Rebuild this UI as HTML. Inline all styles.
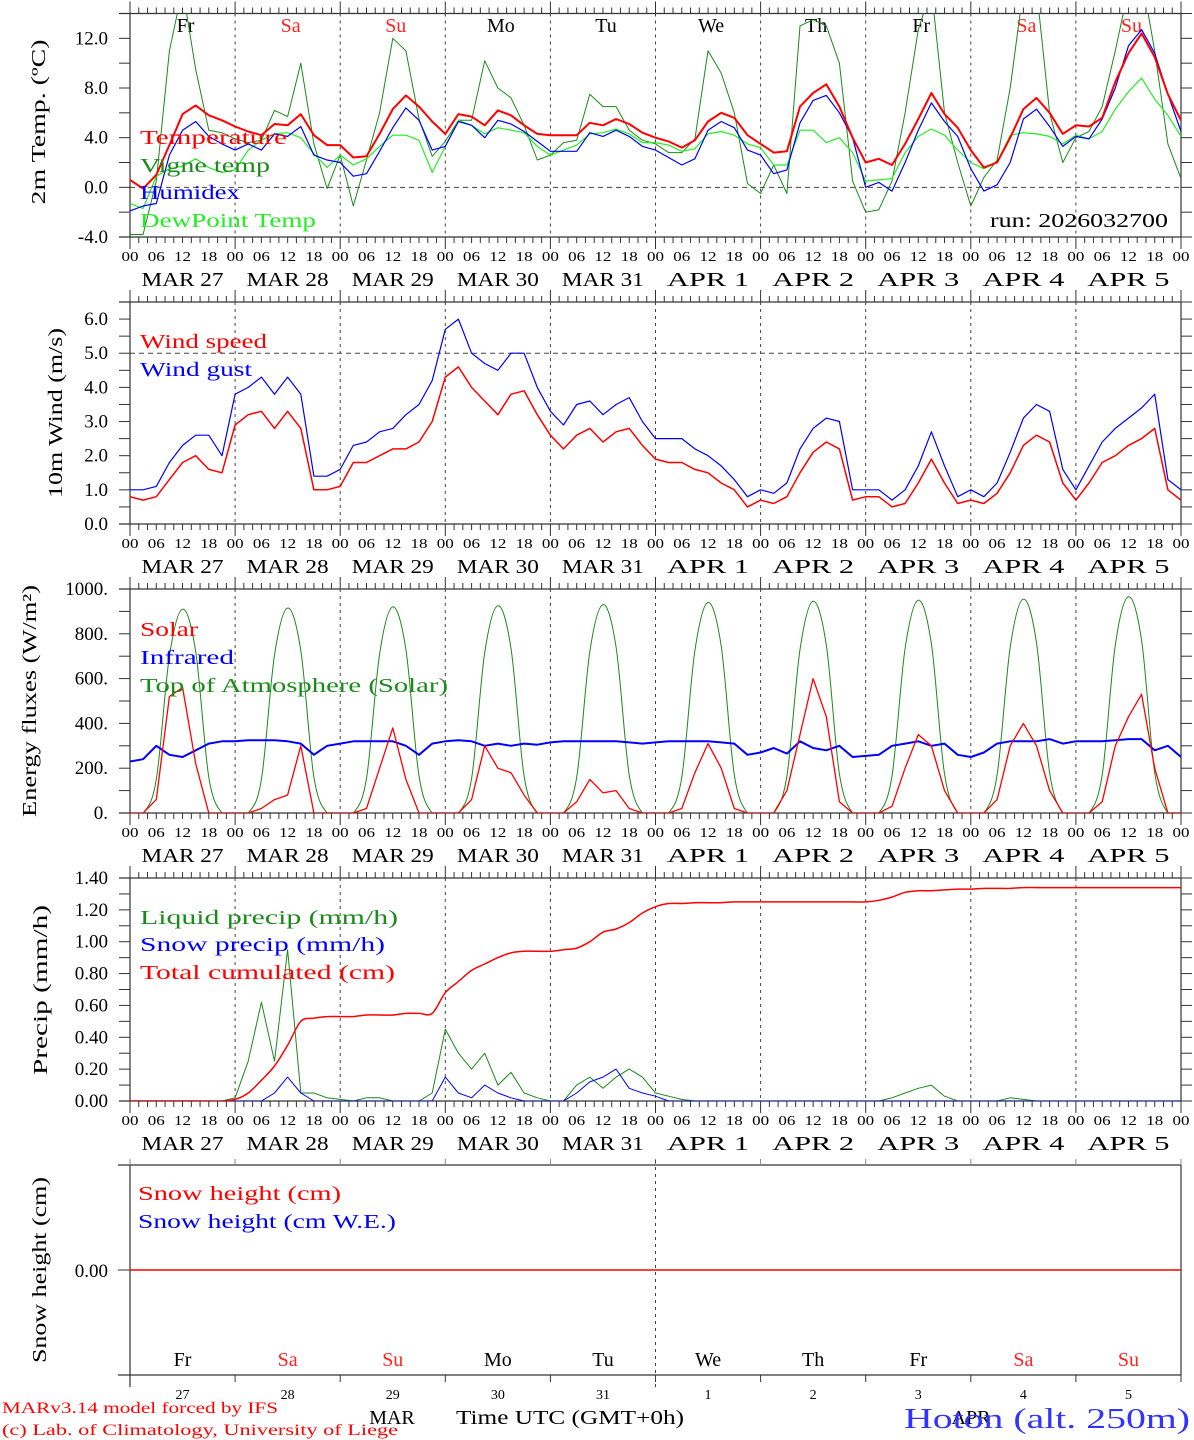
<!DOCTYPE html>
<html><head><meta charset="utf-8"><style>
html,body{margin:0;padding:0;background:#fff;}
svg{display:block;font-family:"Liberation Serif",serif;}
</style></head><body>
<svg id="chart" width="1194" height="1440" viewBox="0 0 1194 1440" xmlns="http://www.w3.org/2000/svg">
<defs>
<clipPath id="c0"><rect x="130" y="13.5" width="1051" height="223.5"/></clipPath>
<clipPath id="c1"><rect x="130" y="302" width="1051" height="222"/></clipPath>
<clipPath id="c2"><rect x="130" y="589" width="1051" height="224"/></clipPath>
<clipPath id="c3"><rect x="130" y="878" width="1051" height="223"/></clipPath>
</defs>
<g id="layer"></g>
</svg>
<script>
// ---- data (3-hourly, hours 0..240) ----
const hours = Array.from({length:81},(_, i)=>i*3);
const dayNames = ["Fr","Sa","Su","Mo","Tu","We","Th","Fr","Sa","Su"];
const dayDates = ["MAR  27","MAR  28","MAR  29","MAR  30","MAR  31","APR   1","APR   2","APR   3","APR   4","APR   5"];
const dayNums = ["27","28","29","30","31","1","2","3","4","5"];
const tempVals = [0.6,-0.1,1.0,3.4,5.9,6.6,5.8,5.4, 4.9,4.5,4.2,5.1,5.0,5.9,4.2,3.4, 3.4,2.4,2.5,4.3,6.3,7.4,6.5,5.3, 4.3,5.9,5.7,5.0,6.2,5.8,5.0,4.3, 4.2,4.2,4.2,5.2,5.0,5.5,5.1,4.4, 4.0,3.7,3.2,3.8,5.3,6.0,5.6,4.2, 3.5,2.8,2.9,6.5,7.6,8.3,6.5,4.0, 2.0,2.3,1.8,3.5,5.5,7.6,5.9,4.8, 3.0,1.6,2.0,4.0,6.3,7.2,6.0,4.3, 5.0,4.9,5.6,8.5,10.8,12.4,10.5,7.5, 5.4];
const vigneVals = [-3.8,-3.8,0.5,11,16,9.5,4.6,4.4, 3.9,3.6,3.8,6.2,5.7,10.0,3.5,-0.1, 2.6,-1.5,2.2,6.0,12.0,11.0,5.5,2.5, 3.7,5.4,5.4,10.2,8.0,7.2,5.0,2.2, 2.6,3.6,3.8,7.5,6.5,6.5,4.6,3.8, 3.5,2.8,2.8,3.9,11.0,9.2,6.0,0.3, -0.5,1.8,-0.5,13,13.5,13,10,0.5, -2.0,-1.8,0.5,6.0,12.7,16,6,2.0, -1.5,0.8,2.2,8,16,16,6,2.0, 4.0,4.5,6.5,11,16,17,11,3.5, 0.7];
const humidexVals = [-1.9,-1.5,-1.3,2.6,4.6,5.3,4.1,3.5, 3.0,3.5,3.0,4.3,4.1,4.9,2.6,2.2, 2.0,0.9,1.1,2.9,4.8,6.4,5.4,3.0, 3.3,5.3,5.0,4.0,5.4,5.1,4.5,3.7, 2.9,2.9,2.9,4.4,4.1,4.6,4.1,3.3, 3.0,2.4,1.8,2.3,4.6,5.3,4.8,3.0, 2.6,1.1,1.4,5.2,7.0,7.4,6.0,4.0, 0.0,0.4,-0.3,2.0,4.6,6.8,5.3,4.1, 1.5,-0.3,0.2,2.0,5.5,6.3,4.9,3.3, 4.1,3.9,5.5,8.0,11.4,12.7,10.8,7.5, 4.5];
const dewVals = [-1.3,-1.7,0.9,1.5,1.7,2.3,1.6,1.2, 1.4,3.0,3.8,4.3,4.4,4.0,2.7,1.6, 2.6,1.8,2.3,3.3,4.2,4.2,3.8,1.2, 3.3,5.4,5.0,4.3,4.8,4.6,4.4,3.3, 2.6,3.0,3.4,4.3,4.4,4.7,4.3,3.6, 3.6,3.4,2.9,3.1,4.3,4.5,4.2,3.5, 3.2,1.8,1.8,4.6,4.6,3.6,4.0,2.8, 0.5,0.6,0.7,2.8,4.1,4.7,4.2,3.0, 2.0,1.5,2.0,4.2,4.4,4.3,4.1,3.5, 4.2,3.9,4.5,6.3,7.7,8.8,7.1,5.8, 4.1];
const windVals = [0.8,0.7,0.8,1.3,1.8,2.0,1.6,1.5, 2.9,3.2,3.3,2.8,3.3,2.8,1.0,1.0, 1.1,1.8,1.8,2.0,2.2,2.2,2.4,3.0, 4.3,4.6,4.0,3.6,3.2,3.8,3.9,3.2, 2.6,2.2,2.6,2.8,2.4,2.7,2.8,2.3, 1.9,1.8,1.8,1.6,1.5,1.2,1.0,0.5, 0.7,0.6,0.8,1.5,2.1,2.4,2.2,0.7, 0.8,0.8,0.5,0.6,1.2,1.9,1.2,0.6, 0.7,0.6,0.9,1.5,2.3,2.6,2.4,1.2, 0.7,1.2,1.8,2.0,2.3,2.5,2.8,1.0, 0.7];
const gustVals = [1.0,1.0,1.1,1.8,2.3,2.6,2.6,2.0, 3.8,4.0,4.3,3.8,4.3,3.8,1.4,1.4, 1.6,2.3,2.4,2.7,2.8,3.2,3.5,4.2, 5.7,6.0,5.0,4.7,4.5,5.0,5.0,4.0, 3.3,2.9,3.5,3.6,3.2,3.5,3.7,3.0, 2.5,2.5,2.5,2.2,2.0,1.7,1.3,0.8, 1.0,0.9,1.2,2.2,2.8,3.1,3.0,1.0, 1.0,1.0,0.7,1.0,1.7,2.7,1.7,0.8, 1.0,0.8,1.2,2.1,3.1,3.5,3.3,1.6, 1.0,1.7,2.4,2.8,3.1,3.4,3.8,1.3, 1.0];
const solarVals = [0,0,60,520,560,220,0,0, 0,0,20,60,80,300,0,0, 0,0,20,200,380,150,0,0, 0,0,60,300,200,180,80,0, 0,0,50,150,90,100,20,0, 0,0,20,180,310,200,20,0, 0,0,100,350,600,430,50,0, 0,0,30,200,350,300,100,0, 0,0,60,300,400,300,100,0, 0,0,50,300,430,530,200,0, 0];
const infraredVals = [230,240,300,260,250,280,310,320, 320,325,325,325,320,310,260,300, 310,320,320,320,320,300,260,310, 320,325,320,300,310,300,310,305, 315,320,320,320,320,320,315,310, 315,320,320,320,320,315,310,260, 270,290,265,320,290,280,300,250, 255,260,300,310,320,300,310,260, 250,270,310,320,320,320,330,310, 320,320,320,325,330,330,280,300, 250];
const toaVals = [0,0,150,700,910,720,160,0, 0,0,150,705,915,725,160,0, 0,0,155,710,920,730,165,0, 0,0,155,715,925,735,165,0, 0,0,160,720,930,740,170,0, 0,0,160,725,940,745,170,0, 0,0,165,730,945,750,175,0, 0,0,165,735,950,755,175,0, 0,0,170,740,955,760,180,0, 0,0,170,750,965,770,180,0, 0];
const liquidVals = [0,0,0,0,0,0,0,0, 0.02,0.25,0.62,0.25,0.95,0.05,0.05,0.02, 0.01,0,0.02,0.02,0,0,0,0.05, 0.45,0.3,0.2,0.3,0.1,0.18,0.05,0.02, 0,0,0.1,0.15,0.08,0.15,0.2,0.15, 0.05,0.03,0.01,0,0,0,0,0, 0,0,0,0,0,0,0,0, 0,0,0.02,0.05,0.08,0.1,0.03,0, 0,0,0,0.02,0.01,0,0,0, 0,0,0,0,0,0,0,0, 0];
const snowVals = [0,0,0,0,0,0,0,0, 0,0,0,0.05,0.15,0.05,0,0, 0,0,0,0,0,0,0,0, 0.15,0.05,0.02,0.1,0.05,0.02,0,0, 0,0,0.05,0.12,0.15,0.2,0.08,0.05, 0.03,0,0,0,0,0,0,0, 0,0,0,0,0,0,0,0, 0,0,0,0,0,0,0,0, 0,0,0,0,0,0,0,0, 0,0,0,0,0,0,0,0, 0];
const cumulVals = [0,0,0,0,0,0,0,0, 0.01,0.05,0.13,0.22,0.35,0.50,0.52,0.53, 0.53,0.53,0.54,0.54,0.54,0.55,0.55,0.55, 0.68,0.75,0.82,0.86,0.90,0.93,0.94,0.94, 0.94,0.95,0.96,1.0,1.06,1.08,1.12,1.18, 1.22,1.24,1.24,1.245,1.245,1.245,1.25,1.25, 1.25,1.25,1.25,1.25,1.25,1.25,1.25,1.25, 1.25,1.26,1.28,1.31,1.32,1.32,1.325,1.33, 1.33,1.335,1.335,1.335,1.34,1.34,1.34,1.34, 1.34,1.34,1.34,1.34,1.34,1.34,1.34,1.34, 1.34];
const snowHeightVals = hours.map(()=>0);
const tempTicks = ["-4.0","0.0","4.0","8.0","12.0"];
const windTicks = ["0.0","1.0","2.0","3.0","4.0","5.0","6.0"];
const energyTicks = ["0.","200.","400.","600.","800.","1000."];
const precipTicks = ["0.00","0.20","0.40","0.60","0.80","1.00","1.20","1.40"];

// ---- layout ----
const NS="http://www.w3.org/2000/svg";
const L=document.getElementById('layer');
const X0=130, X1=1181;
const xs = h => X0 + h*(X1-X0)/240;
const panels=[
 {top:13.5,bot:237,min:-4,max:14,minor:2,ticks:tempTicks,title:"2m Temp. (ºC)",tx:45,ty:122,tl:165,clip:"c0",name:"temperature-panel"},
 {top:302,bot:524,min:0,max:6.5,minor:0.5,ticks:windTicks,title:"10m Wind (m/s)",tx:62,ty:413,tl:170,clip:"c1",name:"wind-panel"},
 {top:589,bot:813,min:0,max:1000,minor:100,ticks:energyTicks,title:"Energy fluxes (W/m²)",tx:36,ty:701,tl:232,clip:"c2",name:"energy-panel"},
 {top:878,bot:1101,min:0,max:1.4,minor:0.1,ticks:precipTicks,title:"Precip (mm/h)",tx:47,ty:990,tl:170,clip:"c3",name:"precip-panel"}
];
function ys(p,v){return p.bot-(v-p.min)*(p.bot-p.top)/(p.max-p.min);}
function el(tag,attrs,parent,text){const e=document.createElementNS(NS,tag);for(const k in attrs)e.setAttribute(k,attrs[k]);if(text!==undefined)e.textContent=text;(parent||L).appendChild(e);return e;}
function line(x1,y1,x2,y2,st,w,dash,parent){return el('line',{x1,y1,x2,y2,stroke:st,'stroke-width':w||1,'stroke-dasharray':dash||'none'},parent);}
function text(x,y,s,size,fill,anchor,parent,extra){const t=el('text',Object.assign({x,y,'font-size':size,fill:fill||'#000','text-anchor':anchor||'start'},extra||{}),parent,s);return t;}

panels.forEach((p,pi)=>{
  const g=el('g',{});
  
  
  line(119,p.top,X1,p.top,'#333',1.2,null,g);
  line(119,p.bot,X1,p.bot,'#333',1.2,null,g);
  line(X0,p.top,X0,p.bot,'#333',1.2,null,g);
  line(X1,p.top,X1,p.bot,'#333',1.2,null,g);
  for(let h=0;h<=240;h+=2){
    const big=h%24===0; const len=big?12:6;
    line(xs(h),p.top,xs(h),p.top-len,'#333',1,null,g);
    line(xs(h),p.bot,xs(h),p.bot+len,'#333',1,null,g);
  }
  for(let d=1;d<10;d++) line(xs(d*24),p.top,xs(d*24),p.bot,'#444',1,'3,4',g);
  for(let v=p.min;v<=p.max+1e-9;v+=p.minor){
    const y=ys(p,v);
    line(119,y,X0,y,'#333',1,null,g);
    line(X1,y,1192,y,'#333',1,null,g);
  }
  p.ticks.forEach(s=>{
    const v=parseFloat(s); const y=ys(p,v);
    const t=text(108,y+6,s,19,'#000','end',g);
    
    
  });
  for(let h=0;h<=240;h+=6){
    const lab=String(h%24).padStart(2,'0');
    text(xs(h),p.bot+24,lab,14,'#000','middle',g,{textLength:17,lengthAdjust:'spacingAndGlyphs'});
  }
  dayDates.forEach((d,i)=>{
    const t=text(xs(i*24+12),p.bot+49,d,20,'#000','middle',g,{'xml:space':'preserve',textLength:82,lengthAdjust:'spacingAndGlyphs'});
    
    
  });
  const tt=text(p.tx,p.ty,p.title,20,'#000','middle',g,{transform:`rotate(-90 ${p.tx} ${p.ty})`,textLength:p.tl,lengthAdjust:'spacingAndGlyphs'});
  
  
});
line(X0,ys(panels[0],0),X1,ys(panels[0],0),'#444',1,'5,4');
line(X0,ys(panels[1],5),X1,ys(panels[1],5),'#444',1,'5,4');

dayNames.forEach((n,i)=>{
  const red=(n==="Sa"||n==="Su");
  const t=text(xs(i*24+12)+3,32,n,20,red?'#f22':'#000','middle');
  
  
});

function series(pi,vals,color,w,name,smooth){
  const p=panels[pi];
  const pts=vals.map((v,i)=>[xs(hours[i]),ys(p,v)]);
  let d='M'+pts[0][0].toFixed(1)+','+pts[0][1].toFixed(1);
  for(let i=1;i<pts.length;i++){
    if(smooth){
      const p0=pts[Math.max(0,i-2)],p1=pts[i-1],p2=pts[i],p3=pts[Math.min(pts.length-1,i+1)];
      const c1=[p1[0]+(p2[0]-p0[0])/6,p1[1]+(p2[1]-p0[1])/6];
      const c2=[p2[0]-(p3[0]-p1[0])/6,p2[1]-(p3[1]-p1[1])/6];
      d+=` C${c1[0].toFixed(1)},${c1[1].toFixed(1)} ${c2[0].toFixed(1)},${c2[1].toFixed(1)} ${p2[0].toFixed(1)},${p2[1].toFixed(1)}`;
    } else d+=' L'+pts[i][0].toFixed(1)+','+pts[i][1].toFixed(1);
  }
  const e=el('path',{d,fill:'none',stroke:color,'stroke-width':w,'clip-path':`url(#${p.clip})`,'stroke-linejoin':'round'});
  
  
}
series(0,vigneVals,'#1a8a1a',1,'vigne-temp-line');
series(0,dewVals,'#22ee22',1.2,'dewpoint-line');
series(0,humidexVals,'#0000ff',1.2,'humidex-line');
series(0,tempVals,'#ff0000',2,'temperature-line');
series(1,gustVals,'#0000ff',1.2,'wind-gust-line');
series(1,windVals,'#ff0000',1.5,'wind-speed-line');
series(2,toaVals,'#1a8a1a',1,'toa-solar-line',true);
series(2,infraredVals,'#0000ff',2,'infrared-line');
series(2,solarVals,'#ff0000',1.3,'solar-line');
series(3,liquidVals,'#1a8a1a',1,'liquid-precip-line');
series(3,snowVals,'#0000ff',1,'snow-precip-line');
series(3,cumulVals,'#ff0000',1.5,'cumulated-precip-line',true);

function legend(x,y,s,c,len){
  const t=text(x,y,s,20,c,'start',null,{textLength:len,lengthAdjust:'spacingAndGlyphs'});
  
  
}
legend(140,144,"Temperature","#ff0000",147);
legend(140,172,"Vigne temp","#1a8a1a",130);
legend(140,199,"Humidex","#0000ff",100);
legend(140,227,"DewPoint Temp","#22ee22",176);
const run=text(990,227,"run: 2026032700",20,'#000','start',null,{textLength:178,lengthAdjust:'spacingAndGlyphs'});


legend(140,348,"Wind speed","#ff0000",127);
legend(140,376,"Wind gust","#0000ff",112);
legend(140,636,"Solar","#ff0000",58);
legend(140,664,"Infrared","#0000ff",94);
legend(140,692,"Top of Atmosphere (Solar)","#1a8a1a",308);
legend(140,924,"Liquid precip (mm/h)","#1a8a1a",258);
legend(140,951,"Snow precip (mm/h)","#0000ff",245);
legend(140,979,"Total cumulated (cm)","#ff0000",255);

// ---- panel 5 (snow height) ----
const g5=el('g',{});


const p5={top:1165,bot:1375,min:-1,max:1};
line(118,p5.top,X1,p5.top,'#333',1.2,null,g5);
line(118,p5.bot,X1,p5.bot,'#333',1.2,null,g5);
line(X0,p5.top,X0,p5.bot+12,'#333',1.2,null,g5);
line(X1,p5.top,X1,p5.bot,'#333',1.2,null,g5);
for(let d=0;d<=10;d++){line(xs(d*24),p5.top,xs(d*24),p5.top-6,'#888',1,null,g5);line(xs(d*24),p5.bot,xs(d*24),p5.bot+7,'#333',1,null,g5);}
line(xs(120),1160,xs(120),1390,'#444',1,'3,4',g5);
const y0=1270;
line(118,y0,X0,y0,'#333',1,null,g5);
text(108,y0+7,"0.00",19,'#000','end',g5);
const sh=el('path',{d:'M'+hours.map((h,i)=>xs(h).toFixed(1)+','+(y0-snowHeightVals[i]*100).toFixed(1)).join(' L'),stroke:'#ff0000','stroke-width':1.5,fill:'none'},g5);


const st=text(46,1270,"Snow height (cm)",20,'#000','middle',g5,{transform:'rotate(-90 46 1270)',textLength:186,lengthAdjust:'spacingAndGlyphs'});


legend(138,1200,"Snow height (cm)","#ff0000",203);
legend(138,1228,"Snow height (cm W.E.)","#0000ff",258);
dayNames.forEach((n,i)=>{
  const red=(n==="Sa"||n==="Su");
  const t=text(xs(i*24+12),1366,n,20,red?'#f22':'#000','middle',g5);
  
  
  const u=text(xs(i*24+12),1399,dayNums[i],14,'#000','middle',g5);
  
  
});
text(392,1424,"MAR",20,'#000','middle');
text(971,1424,"APR",20,'#000','middle');
text(570,1424,"Time UTC (GMT+0h)",20,'#000','middle',null,{textLength:228,lengthAdjust:'spacingAndGlyphs'});
const f1=text(2,1413,"MARv3.14 model forced by IFS",16,'#ff0000','start',null,{textLength:276,lengthAdjust:'spacingAndGlyphs'});


const f2=text(2,1435,"(c) Lab. of Climatology, University of Liege",16,'#ff0000','start',null,{textLength:396,lengthAdjust:'spacingAndGlyphs'});


const loc=text(904,1428,"Hoton (alt. 250m)",28,'#3333ff','start',null,{textLength:286,lengthAdjust:'spacingAndGlyphs'});


</script>
</body></html>
